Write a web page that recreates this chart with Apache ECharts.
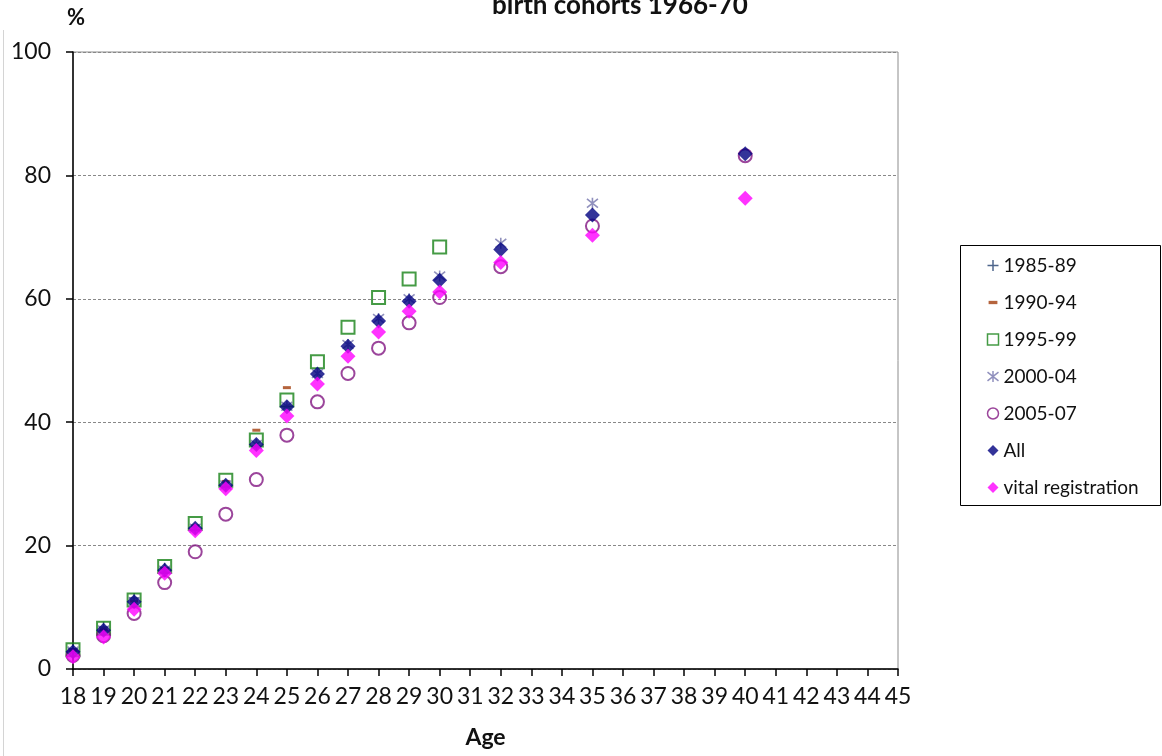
<!DOCTYPE html>
<html lang="en">
<head>
    <meta charset="UTF-8">
    <title>birth cohorts 1966-70</title>
    <style>
        html, body {margin: 0; padding: 0; background: #fff;}
        #chart {width: 1162px; height: 756px;}
    </style>
    <script src="https://cdn.jsdelivr.net/npm/echarts@6/dist/echarts.min.js"></script>
</head>
<body>
<div id="chart"></div>
<script type="text/javascript">

    // ages and values (% of cohort)
    var ages8589 = [18, 19, 20, 21];
    var vals8589 = [3.3, 6.8, 11.5, 16.4];

    var ages9094 = [18, 19, 20, 21, 22, 23, 24, 25];
    var vals9094 = [3.0, 6.5, 11.0, 16.3, 23.2, 30.4, 38.7, 45.6];

    var ages9599 = [18, 19, 20, 21, 22, 23, 24, 25, 26, 27, 28, 29, 30];
    var vals9599 = [3.1, 6.6, 11.2, 16.6, 23.6, 30.6, 37.1, 43.6, 49.8, 55.4, 60.2, 63.2, 68.4];

    var ages0004 = [18, 19, 20, 21, 22, 23, 24, 25, 26, 27, 28, 29, 30, 32, 35];
    var vals0004 = [2.9, 6.3, 10.9, 16.0, 22.8, 29.8, 36.4, 42.6, 47.9, 52.6, 56.8, 60.0, 63.7, 69.0, 75.5];

    var ages0507 = [18, 19, 20, 21, 22, 23, 24, 25, 26, 27, 28, 29, 30, 32, 35, 40];
    var vals0507 = [2.2, 5.4, 9.0, 14.0, 19.0, 25.1, 30.7, 37.9, 43.3, 47.9, 52.0, 56.1, 60.2, 65.2, 71.8, 83.2];

    var agesAll = [18, 19, 20, 21, 22, 23, 24, 25, 26, 27, 28, 29, 30, 32, 35, 40];
    var valsAll = [2.8, 6.3, 10.9, 16.0, 22.8, 29.8, 36.4, 42.5, 47.8, 52.3, 56.4, 59.6, 63.0, 68.0, 73.6, 83.5];

    var agesVital = [18, 19, 20, 21, 22, 23, 24, 25, 26, 27, 28, 29, 30, 32, 35, 40];
    var valsVital = [2.0, 5.2, 9.7, 15.5, 22.4, 29.2, 35.4, 41.0, 46.2, 50.7, 54.6, 58.0, 61.1, 65.9, 70.3, 76.3];

    var yTicks = [0, 20, 40, 60, 80, 100];

    var FONT = 'Lato, "Open Sans", sans-serif';

    function pairs(xs, ys) {
        var out = [];
        for (var i = 0; i < xs.length; i++) out.push([xs[i], ys[i]]);
        return out;
    }

    // marker shapes
    var PLUS = 'path://M5,0L5,10M0,5L10,5';
    var STAR = 'path://M0,1L10,9M10,1L0,9M5,0L5,10';
    var DASH = 'path://M0,0M10,10M1,3.5L9,3.5L9,6.5L1,6.5Z';

    var seriesDefs = [
        {name: '1985-89', data: pairs(ages8589, vals8589), symbol: PLUS, symbolSize: 10,
            itemStyle: {color: 'none', borderColor: '#22406f', borderWidth: 1.5}},
        {name: '1990-94', data: pairs(ages9094, vals9094), symbol: DASH, symbolSize: 10,
            itemStyle: {color: '#a33d0c'}},
        {name: '1995-99', data: pairs(ages9599, vals9599), symbol: 'rect', symbolSize: 13,
            itemStyle: {color: 'none', borderColor: '#168216', borderWidth: 2}},
        {name: '2000-04', data: pairs(ages0004, vals0004), symbol: STAR, symbolSize: 11,
            itemStyle: {color: 'none', borderColor: '#7474ad', borderWidth: 1.6}},
        {name: '2005-07', data: pairs(ages0507, vals0507), symbol: 'circle', symbolSize: 13,
            itemStyle: {color: 'none', borderColor: '#821682', borderWidth: 2}},
        {name: 'All', data: pairs(agesAll, valsAll), symbol: 'diamond', symbolSize: 15,
            itemStyle: {color: '#000080'}},
        {name: 'vital registration', data: pairs(agesVital, valsVital), symbol: 'diamond', symbolSize: 15,
            itemStyle: {color: '#ff00ff'}}
    ];

    var series = [];
    for (var i = 0; i < seriesDefs.length; i++) {
        var d = seriesDefs[i];
        series.push({
            name: d.name,
            type: 'scatter',
            data: d.data,
            symbol: d.symbol,
            symbolSize: d.symbolSize,
            itemStyle: d.itemStyle,
            z: 2 + i,
            emphasis: {disabled: true},
            animation: false
        });
    }

    var myChart = echarts.init(document.getElementById('chart'), null, {renderer: 'canvas'});

    var option = {
        backgroundColor: '#fff',
        animation: false,
        grid: {
            left: 73, right: 264, top: 52, bottom: 87,
            show: true, borderColor: '#8c8c8c', borderWidth: 1, backgroundColor: 'transparent'
        },
        legend: {
            orient: 'vertical',
            left: 980,
            top: 251,
            itemWidth: 11,
            itemHeight: 11,
            itemGap: 18,
            selectedMode: false,
            itemStyle: {borderWidth: 1.5},
            textStyle: {fontFamily: FONT, fontSize: 19, color: '#111'},
            data: seriesDefs.map(function (s) { return s.name; })
        },
        xAxis: {
            type: 'value',
            min: 18,
            max: 45,
            interval: 1,
            name: 'Age',
            nameLocation: 'middle',
            nameGap: 57,
            nameTextStyle: {fontFamily: FONT, fontSize: 23, fontWeight: 'bold', color: '#111'},
            axisLine: {show: true, lineStyle: {color: '#000', width: 1.5}},
            axisTick: {show: true, length: 7, lineStyle: {color: '#000', width: 1.5}},
            axisLabel: {fontFamily: FONT, fontSize: 23, color: '#111', margin: 16},
            splitLine: {show: false}
        },
        yAxis: {
            type: 'value',
            min: yTicks[0],
            max: yTicks[yTicks.length - 1],
            interval: 20,
            axisLine: {show: true, lineStyle: {color: '#000', width: 1.5}},
            axisTick: {show: true, length: 7, lineStyle: {color: '#000', width: 1.5}},
            axisLabel: {fontFamily: FONT, fontSize: 23, color: '#111', margin: 22},
            splitLine: {show: true, lineStyle: {color: '#888', width: 1, type: [3, 2]}}
        },
        graphic: [
            {type: 'text', x: 620, y: -7, silent: true,
                style: {text: 'birth cohorts 1966-70', textAlign: 'center', fill: '#111',
                    font: 'bold 26px ' + FONT}},
            {type: 'text', x: 67, y: 7, silent: true,
                style: {text: '%', fill: '#111', font: 'bold 22px ' + FONT}},
            {type: 'rect', silent: true,
                shape: {x: 960.5, y: 245.5, width: 200, height: 260},
                style: {fill: 'none', stroke: '#000', lineWidth: 1}},
            {type: 'line', silent: true,
                shape: {x1: 3.5, y1: 30, x2: 3.5, y2: 756},
                style: {stroke: '#d4d4d4', lineWidth: 1}}
        ],
        series: series
    };

    myChart.setOption(option);
</script>
</body>
</html>
